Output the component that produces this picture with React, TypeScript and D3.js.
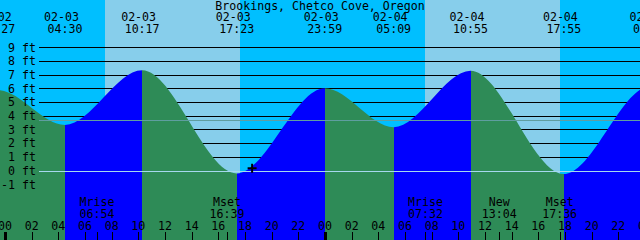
import React from "react";
import * as d3 from "d3";

const title = "Brookings, Chetco Cove, Oregon";
// tide extrema (times are MM-DD HH:MM), levels in ft
const tideTimes = [
  "02-02 16:50", "02-02 23:27", "02-03 04:30", "02-03 10:17", "02-03 17:23",
  "02-03 23:59", "02-04 05:09", "02-04 10:55", "02-04 17:55", "02-05 00:25", "02-05 05:45",
];
const tideLevels = [-0.1, 5.9, 3.36, 7.35, -0.18, 6.04, 3.2, 7.32, -0.22, 6.2, 3.1];
const sunrises = ["02-03 07:30", "02-04 07:30"];
const sunsets = ["02-03 17:37", "02-04 17:38"];
const moonLabels = ["Mrise", "Mset", "Mrise", "New", "Mset"];
const moonTimes = ["02-03 06:54", "02-03 16:39", "02-04 07:32", "02-04 13:04", "02-04 17:36"];
const depthTicks = [-1, 0, 1, 2, 3, 4, 5, 6, 7, 8, 9];
const hourTicks = d3.range(0, 50, 2);
const meanLevel = 3.72;
const markTime = "02-03 18:32";
const markLevel = 0.2;

const W = 640;
const H = 240;
const FONT = "DejaVu Sans Mono";
const FS = 11.6;

const NIGHT = "#00BFFF";
const DAY = "#87CEEB";
const FLOOD = "#0000FF";
const EBB = "#2E8B57";

function toHours(s: string): number {
  const [md, hm] = s.split(" ");
  const day = +md.split("-")[1];
  const [hh, mm] = hm.split(":").map(Number);
  return (day - 3) * 24 + hh + mm / 60;
}

export default function App() {
  const x = d3.scaleLinear().domain([0, 48]).range([5, 645]);
  const y = d3.scaleLinear().domain([0, 9]).range([171, 47.7]);

  const tide = tideTimes.map((t, i) => ({ t, h: toHours(t), v: tideLevels[i] }));
  const area = d3
    .area<{ h: number; v: number }>()
    .x((d) => x(d.h))
    .y0(H)
    .y1((d) => y(d.v))
    .curve(d3.curveMonotoneX);

  const lineX0 = 39;

  return (
    <svg
      width={W}
      height={H}
      style={{ position: "fixed", left: 0, top: 0, display: "block" }}
      fontFamily={FONT}
      fontSize={FS}
    >
      <defs>
        <clipPath id="tideClip">
          <path d={area(tide) || ""} />
        </clipPath>
      </defs>
      {/* background: night / day */}
      <rect x={0} y={0} width={W} height={H} fill={NIGHT} />
      {sunrises.map((sr, i) => (
        <rect
          key={"day" + i}
          x={x(toHours(sr))}
          y={0}
          width={x(toHours(sunsets[i])) - x(toHours(sr))}
          height={H}
          fill={DAY}
          shapeRendering="crispEdges"
        />
      ))}
      {/* depth lines */}
      {depthTicks
        .filter((v) => v !== 0)
        .map((v) => (
          <line
            key={"dl" + v}
            x1={lineX0}
            x2={W}
            y1={y(v)}
            y2={y(v)}
            stroke="#000"
            strokeWidth={1}
            shapeRendering="crispEdges"
          />
        ))}
      {/* tide fill: flood blue, ebb green */}
      <g clipPath="url(#tideClip)">
        {tide.slice(0, -1).map((d, i) => {
          const n = tide[i + 1];
          return (
            <rect
              key={"seg" + i}
              x={x(d.h)}
              y={0}
              width={x(n.h) - x(d.h)}
              height={H}
              fill={n.v > d.v ? FLOOD : EBB}
              shapeRendering="crispEdges"
            />
          );
        })}
      </g>
      {/* mean and datum lines */}
      <line x1={lineX0} x2={W} y1={y(meanLevel)} y2={y(meanLevel)} stroke="#5F9EA0" strokeWidth={1} shapeRendering="crispEdges" />
      <line x1={lineX0} x2={W} y1={y(0)} y2={y(0)} stroke="#A6D8EE" strokeWidth={1} shapeRendering="crispEdges" />
      {/* y labels */}
      {depthTicks.map((v) => (
        <text key={"yl" + v} x={36} y={y(v) + 3.8} textAnchor="end" fill="#000">
          {`${v} ft`}
        </text>
      ))}
      {/* title */}
      <text x={W / 2} y={10} textAnchor="middle" fill="#000">
        {title}
      </text>
      {/* extrema labels */}
      {tide.map((d, i) => (
        <g key={"tl" + i}>
          <text x={x(d.h) - 3.5} y={21} textAnchor="middle" fill="#000">
            {d.t.split(" ")[0]}
          </text>
          <text x={x(d.h)} y={33} textAnchor="middle" fill="#000">
            {d.t.split(" ")[1]}
          </text>
        </g>
      ))}
      {/* moon labels */}
      {moonTimes.map((t, i) => (
        <g key={"ml" + i}>
          <text x={x(toHours(t))} y={206} textAnchor="middle" fill="#000">
            {moonLabels[i]}
          </text>
          <text x={x(toHours(t))} y={218} textAnchor="middle" fill="#000">
            {t.split(" ")[1]}
          </text>
          <line
            x1={Math.round(x(toHours(t))) + 0.5}
            x2={Math.round(x(toHours(t))) + 0.5}
            y1={232}
            y2={H}
            stroke="#000"
            strokeWidth={1}
          />
        </g>
      ))}
      {/* hour ticks */}
      {hourTicks.map((h) => (
        <g key={"hk" + h}>
          <text x={x(h)} y={230} textAnchor="middle" fill="#000">
            {d3.format("02d")(h % 24)}
          </text>
          <line
            x1={h % 24 === 0 ? Math.round(x(h)) + 0.5 : Math.round(x(h)) + 0.5}
            x2={h % 24 === 0 ? Math.round(x(h)) + 0.5 : Math.round(x(h)) + 0.5}
            y1={232}
            y2={H}
            stroke="#000"
            strokeWidth={h % 24 === 0 ? 3 : 1}
          />
        </g>
      ))}
      {/* current-time mark */}
      <g transform={`translate(${x(toHours(markTime))},${y(markLevel)})`}>
        <line x1={-4.5} x2={4.5} y1={0} y2={0} stroke="#000" strokeWidth={2} />
        <line x1={0} x2={0} y1={-4.5} y2={4.5} stroke="#000" strokeWidth={2} />
      </g>
    </svg>
  );
}
